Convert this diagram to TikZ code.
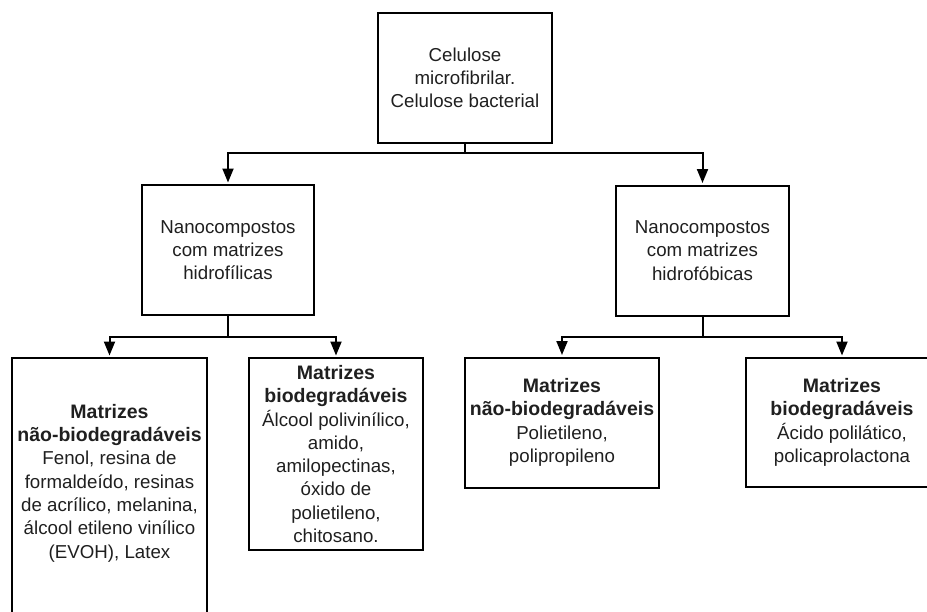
\documentclass[tikz,border=0pt]{standalone}
\usepackage{fontspec}
\setmainfont{Liberation Sans}
\usetikzlibrary{arrows.meta}
\newcommand{\bt}[1]{{\fontsize{19.5}{23.3}\selectfont\textbf{#1}}}
\begin{document}
\begin{tikzpicture}[x=1pt,y=-1pt,
  box/.style={draw=black,line width=2pt,minimum width=#1,inner sep=0pt,align=center,
    font=\fontsize{18.7}{23.3}\selectfont,text=black!88},
  txt/.style={inner sep=0pt,align=center,font=\fontsize{18.7}{23.3}\selectfont,text=black!88},
  conn/.style={line width=2pt,draw=black},
  arr/.style={conn,-{Triangle[length=14pt,width=11pt]},shorten >=1.5pt}]
\useasboundingbox (0,0) rectangle (927,611);
\clip (0,0) rectangle (927,611);
% boxes
\node[box=174pt,minimum height=130pt] (top) at (465,78) {Celulose\\microfibrilar.\\Celulose bacterial};
\node[box=172pt,minimum height=130pt] (hfil) at (228,250) {Nanocompostos\\com matrizes\\hidrofílicas};
\node[box=173pt,minimum height=130pt] (hfob) at (702.5,250.5) {Nanocompostos\\com matrizes\\hidrofóbicas};
\node[box=195pt,minimum height=290pt] (lnb) at (109.5,503) {};
\node[txt] (lnbt) at (109.5,483) {\bt{Matrizes}\\\bt{não-biodegradáveis}\\Fenol, resina de\\formaldeído, resinas\\de acrílico, melanina,\\álcool etileno vinílico\\(EVOH), Latex};
\node[box=174pt,minimum height=192pt] (lb) at (336,454) {\bt{Matrizes}\\\bt{biodegradáveis}\\Álcool polivinílico,\\amido,\\amilopectinas,\\óxido de\\polietileno,\\chitosano.};
\node[box=194pt,minimum height=130pt] (rnb) at (562,422.5) {\bt{Matrizes}\\\bt{não-biodegradáveis}\\Polietileno,\\polipropileno};
\node[box=192pt,minimum height=129pt] (rb) at (842,422.5) {\bt{Matrizes}\\\bt{biodegradáveis}\\Ácido polilático,\\policaprolactona};
% junctions
\coordinate (j1) at (top.south |- 0,153);
\coordinate (j2) at (hfil.south |- 0,337);
\coordinate (j3) at (hfob.south |- 0,337);
% connectors
\draw[conn] (top.south) -- (j1);
\draw[arr] (j1) -| (hfil.north);
\draw[arr] (j1) -| (hfob.north);
\draw[conn] (hfil.south) -- (j2);
\draw[arr] (j2) -| (lnb.north);
\draw[arr] (j2) -| (lb.north);
\draw[conn] (hfob.south) -- (j3);
\draw[arr] (j3) -| (rnb.north);
\draw[arr] (j3) -| (rb.north);
\end{tikzpicture}
\end{document}
